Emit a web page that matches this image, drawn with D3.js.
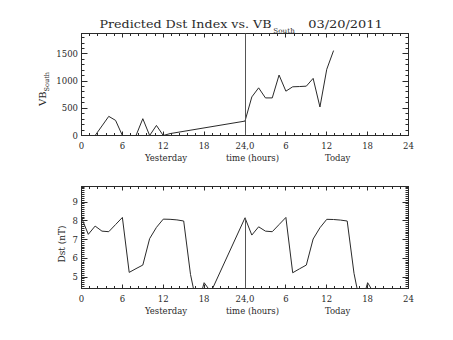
<!DOCTYPE html>
<html><head><meta charset="utf-8">
<script src="https://cdn.jsdelivr.net/npm/d3@7"></script>
<style>body{margin:0;background:#fff}svg{display:block}</style>
</head><body><svg id="c" width="453" height="340"></svg>
<script>
// ---- data ----
const titleMain = "Predicted Dst Index vs. VB";
const titleSub = "South";
const titleDate = "03/20/2011";
const xTickValues = [0, 6, 12, 18, 24, 30, 36, 42, 48];
const xTickLabels = ["0", "6", "12", "18", "24,0", "6", "12", "18", "24"];
const dayLabels = ["Yesterday", "time (hours)", "Today"];
const dayLabelHours = [12.4, 25.1, 37.6];
const vbTicks = [0, 500, 1000, 1500];
const dstTicks = [5, 6, 7, 8, 9];
const vbHours = [0,1,2,3,4,5,6,7,8,9,10,11,12,13, 24,25,26,27,28,29,30,31,32,33,34,35,36,37];
const vbValues = [0,0,0,175,352,278,0,0,0,309,0,185,0,35, 265,709,876,691,691,1111,815,895,900,907,1050,524,1217,1561];
const dstHours = [0,1,2,3,4,5,6,7,8,9,10,11,12,13,14,15,16,17,18,19,
                  24,25,26,27,28,29,30,31,32,33,34,35,36,37,38,39,40,41,42,43];
const dstValues = [8.16,7.28,7.72,7.45,7.42,7.8,8.18,5.25,5.45,5.64,7.05,7.65,8.09,8.08,8.05,7.99,5.14,3.4,4.70,4.2,
                   8.16,7.24,7.68,7.45,7.42,7.8,8.18,5.23,5.44,5.64,7.03,7.63,8.08,8.07,8.04,7.99,5.2,3.4,4.70,4.1];
const splitHour = 24;

// ---- drawing ----
const svg = d3.select("#c");
const FONT = "'DejaVu Serif', serif";
const INK = "#2a2a2a";
const x = d3.scaleLinear().domain([0, 48]).range([81.5, 408.5]);

function panel(opts) {
  const y = d3.scaleLinear().domain(opts.yDomain).range([opts.bottom, opts.top]);
  const g = svg.append("g");
  const clipId = "clip" + opts.id;
  svg.append("clipPath").attr("id", clipId).append("rect")
    .attr("x", x.range()[0]).attr("y", opts.top)
    .attr("width", x.range()[1] - x.range()[0]).attr("height", opts.bottom - opts.top);

  g.append("rect").attr("x", x.range()[0]).attr("y", opts.top)
    .attr("width", x.range()[1] - x.range()[0]).attr("height", opts.bottom - opts.top)
    .attr("fill", "none").attr("stroke", INK).attr("stroke-width", 1);

  const xMinor = d3.range(0, 48.001, 1.2);
  const tickG = g.append("g").attr("stroke", INK).attr("stroke-width", 1);
  xMinor.forEach(h => {
    const major = xTickValues.some(v => Math.abs(v - h) < 1e-6);
    const len = major ? 4 : 2.5;
    const px = Math.round(x(h) - 0.5) + 0.5;
    tickG.append("line").attr("x1", px).attr("x2", px).attr("y1", opts.bottom).attr("y2", opts.bottom - len);
    tickG.append("line").attr("x1", px).attr("x2", px).attr("y1", opts.top).attr("y2", opts.top + len);
  });
  const yMinor = [];
  for (let v = opts.yMinorStart; v <= opts.yDomain[1] + 1e-9; v += opts.yMinorStep) yMinor.push(+v.toFixed(6));
  yMinor.forEach(v => {
    if (v < opts.yDomain[0]) return;
    const major = opts.yTicks.some(t => Math.abs(t - v) < 1e-6);
    const len = major ? 6 : 3;
    const py = Math.round(y(v) - 0.5) + 0.5;
    tickG.append("line").attr("x1", x.range()[0]).attr("x2", x.range()[0] + len).attr("y1", py).attr("y2", py);
    tickG.append("line").attr("x1", x.range()[1]).attr("x2", x.range()[1] - len).attr("y1", py).attr("y2", py);
  });

  const lab = g.append("g").attr("font-family", FONT).attr("font-size", 8.5).attr("fill", INK);
  xTickValues.forEach((v, i) => {
    lab.append("text").attr("x", x(v)).attr("y", opts.bottom + 13)
      .attr("text-anchor", "middle").text(xTickLabels[i]);
  });
  opts.yTicks.forEach(v => {
    lab.append("text").attr("x", 78).attr("y", y(v) + 3)
      .attr("text-anchor", "end").text(d3.format("d")(v));
  });
  dayLabels.forEach((t, i) => {
    lab.append("text").attr("x", x(dayLabelHours[i])).attr("y", opts.bottom + 25)
      .attr("text-anchor", "middle").text(t);
  });

  const line = d3.line().x(d => x(d[0])).y(d => y(d[1]));
  const pts = opts.hours.map((h, i) => [h, opts.values[i]]);
  g.append("path").datum(pts).attr("d", line)
    .attr("clip-path", `url(#${clipId})`)
    .attr("fill", "none").attr("stroke", INK).attr("stroke-width", 1);

  const sx = Math.round(x(splitHour) - 0.5) + 0.5;
  const sy = opts.splitFull ? opts.top : y(opts.values[opts.hours.indexOf(splitHour)]);
  g.append("line").attr("x1", sx).attr("x2", sx).attr("y1", sy).attr("y2", opts.bottom)
    .attr("stroke", "#555").attr("stroke-width", 1);
  return { y, g };
}

const topPanel = panel({ id: "a", top: 33.5, bottom: 135.5, yDomain: [0, 1875], yTicks: vbTicks,
  yMinorStart: 0, yMinorStep: 100, hours: vbHours, values: vbValues, splitFull: true });
const yt = svg.append("text").attr("font-family", FONT).attr("font-size", 10).attr("fill", INK)
  .attr("transform", "translate(45.5,89) rotate(-90)").attr("text-anchor", "middle");
yt.append("tspan").text("VB");
yt.append("tspan").attr("font-size", 6.5).attr("dy", 3).text(titleSub);

const botPanel = panel({ id: "b", top: 186.5, bottom: 288.5, yDomain: [4.39, 9.83], yTicks: dstTicks,
  yMinorStart: 4.4, yMinorStep: 0.1, hours: dstHours, values: dstValues, splitFull: false });
svg.append("text").attr("font-family", FONT).attr("font-size", 9).attr("fill", INK)
  .attr("transform", "translate(64.5,244) rotate(-90)").attr("text-anchor", "middle")
  .text("Dst (nT)");

const tg = svg.append("g").attr("font-family", FONT).attr("fill", INK);
tg.append("text").attr("x", 99.5).attr("y", 28.3).attr("font-size", 11)
  .attr("textLength", 172).attr("lengthAdjust", "spacingAndGlyphs").text(titleMain);
tg.append("rect").attr("x", 273).attr("y", 27.5).attr("width", 22.5).attr("height", 5.5).attr("fill", "#fff");
tg.append("text").attr("x", 273.3).attr("y", 32.6).attr("font-size", 6.5)
  .attr("textLength", 21.5).attr("lengthAdjust", "spacingAndGlyphs").text(titleSub);
tg.append("text").attr("x", 308.3).attr("y", 28.3).attr("font-size", 11)
  .attr("textLength", 74.4).attr("lengthAdjust", "spacingAndGlyphs").text(titleDate);
</script>
</body></html>
